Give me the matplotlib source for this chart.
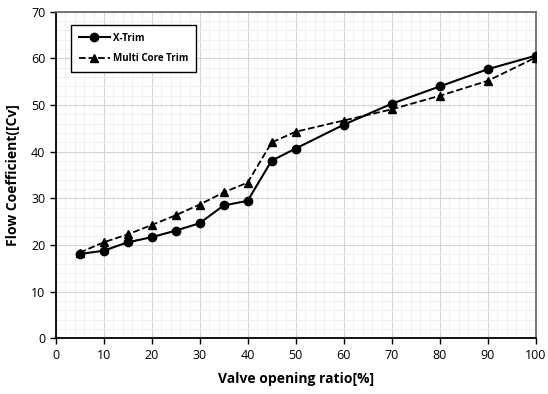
import matplotlib
matplotlib.use('Agg')
import matplotlib.pyplot as plt
from matplotlib.ticker import MultipleLocator

plt.rcParams['font.family'] = ['Open Sans', 'DejaVu Sans']

# Valve opening ratio [%]
opening = [5, 10, 15, 20, 25, 30, 35, 40, 45, 50, 60, 70, 80, 90, 100]

# Flow coefficient [Cv]
x_trim = [18.1, 18.8, 20.6, 21.7, 23.1, 24.7, 28.5, 29.5, 38.1, 40.7, 45.8, 50.3, 54.0, 57.7, 60.6]
multi_core = [18.4, 20.6, 22.3, 24.3, 26.4, 28.7, 31.3, 33.4, 42.0, 44.3, 46.7, 49.1, 52.0, 55.2, 60.2]

fig = plt.figure(figsize=(5.48, 3.94), dpi=100)
ax = fig.add_axes([0.1015, 0.141, 0.876, 0.829])

ax.plot(opening, x_trim, color='black', linestyle='-', linewidth=1.5,
        marker='o', markersize=6, label='X-Trim', zorder=3)
ax.plot(opening, multi_core, color='black', linestyle='--', linewidth=1.3,
        marker='^', markersize=6, label='Multi Core Trim', zorder=3)

ax.set_xlim(0, 100)
ax.set_ylim(0, 70)
ax.xaxis.set_major_locator(MultipleLocator(10))
ax.yaxis.set_major_locator(MultipleLocator(10))
ax.xaxis.set_minor_locator(MultipleLocator(2))
ax.yaxis.set_minor_locator(MultipleLocator(2))

ax.grid(True, which='major', color='#d4d4d4', linewidth=0.8, zorder=0)
ax.grid(True, which='minor', color='#efefef', linewidth=0.6, zorder=0)
ax.set_axisbelow(True)

ax.tick_params(axis='both', which='major', direction='out', length=4,
               width=1, labelsize=9, colors='black')
ax.tick_params(axis='both', which='minor', length=0)

for side in ['left', 'bottom']:
    ax.spines[side].set_color('black')
    ax.spines[side].set_linewidth(1.3)
for side in ['right', 'top']:
    ax.spines[side].set_color('#6e6e6e')
    ax.spines[side].set_linewidth(1.3)

ax.set_xlabel('Valve opening ratio[%]', fontsize=10, fontweight='bold', labelpad=7)
ax.set_ylabel('Flow Coefficient([Cv]', fontsize=10, fontweight='bold', labelpad=8)

leg = ax.legend(loc='upper left', bbox_to_anchor=(0.022, 0.975), fancybox=False,
                edgecolor='black', framealpha=1,
                prop={'weight': 'bold', 'size': 7}, handlelength=3.2,
                borderpad=0.8, labelspacing=1.0, handletextpad=0.3)
leg.get_frame().set_linewidth(1.0)

fig.savefig('out.png', dpi=100)
